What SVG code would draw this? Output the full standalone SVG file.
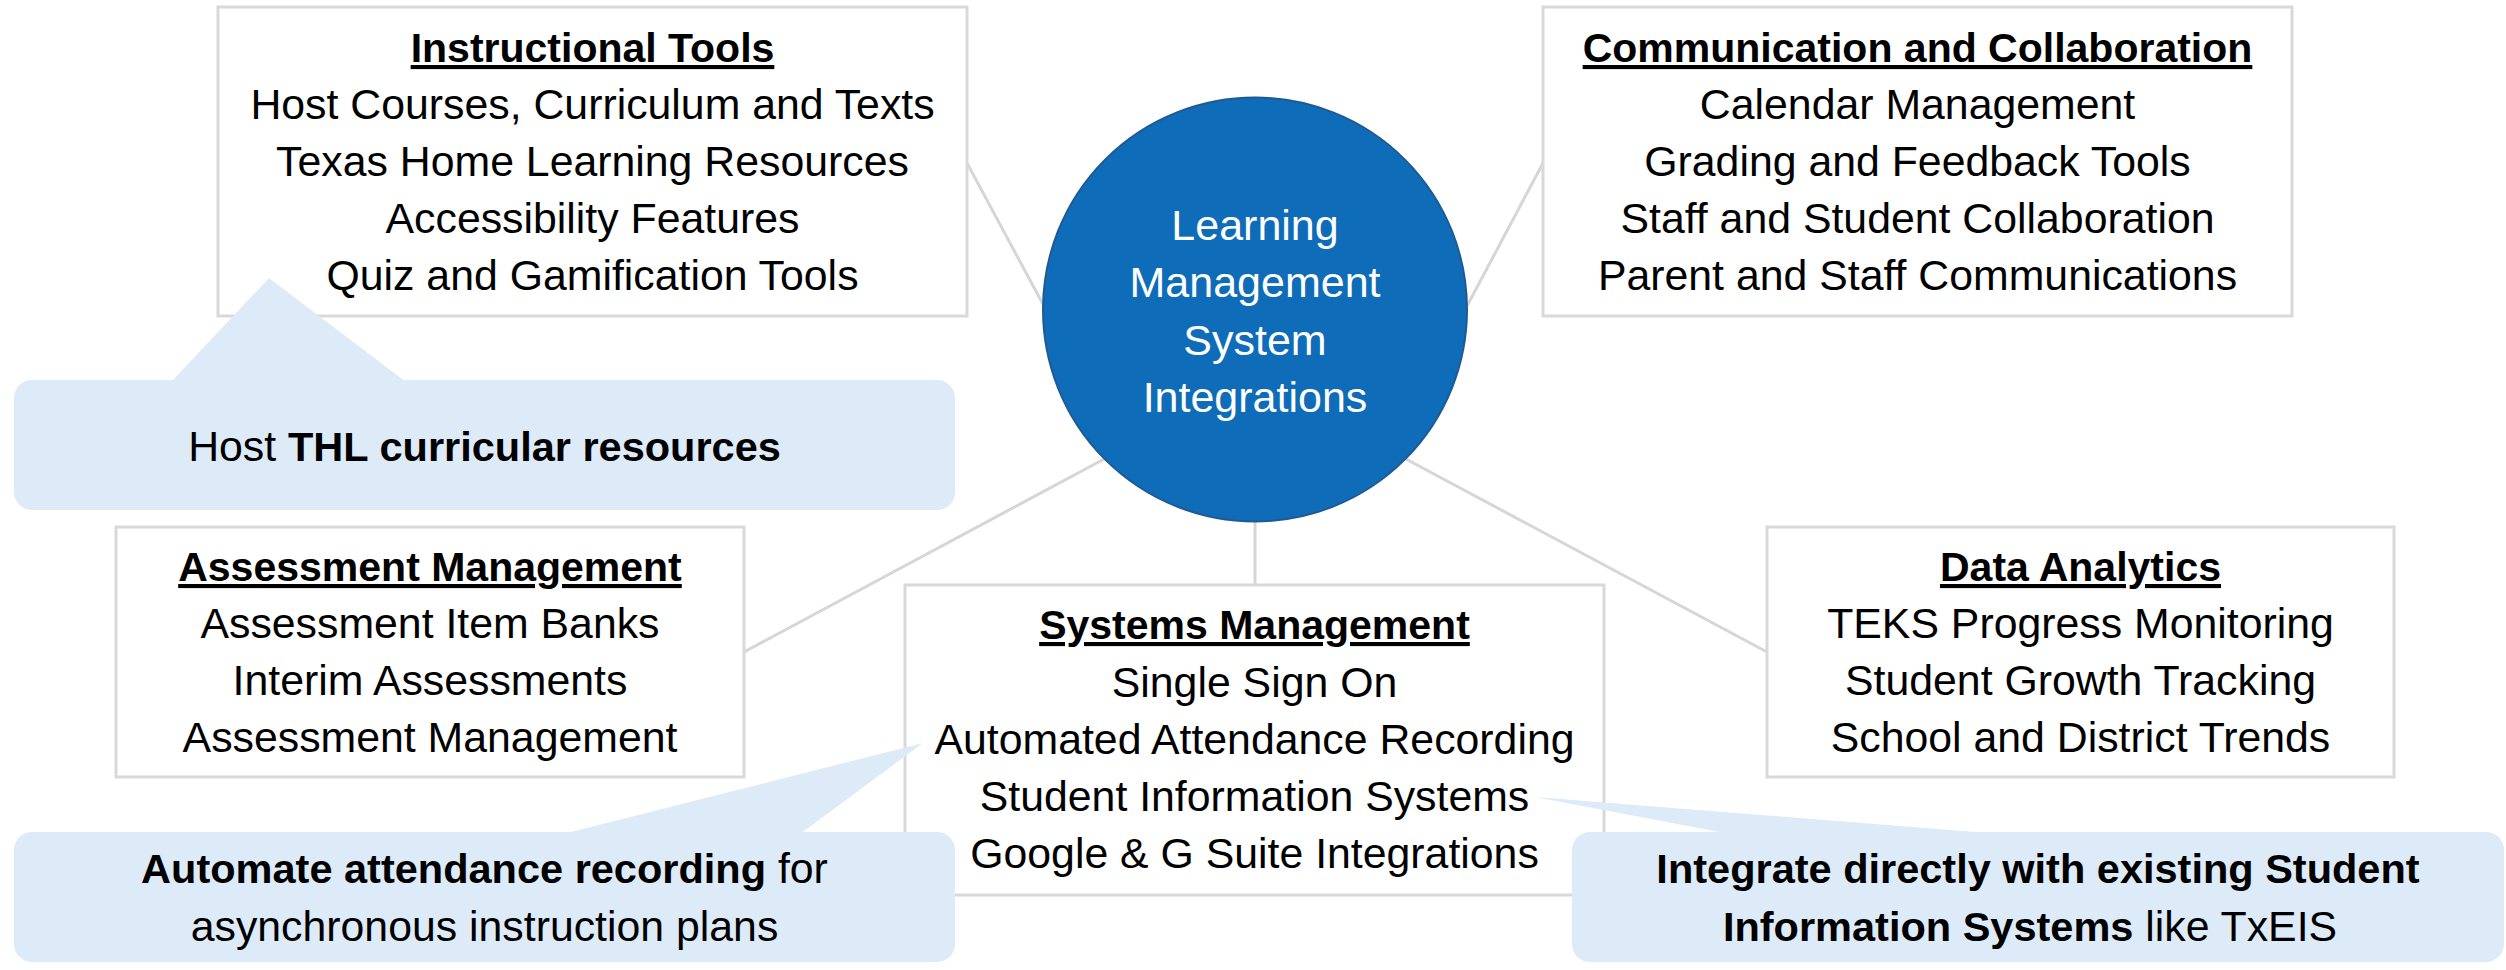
<svg xmlns="http://www.w3.org/2000/svg" width="2506" height="970" viewBox="0 0 2506 970">
  <style>
    .box { fill: #ffffff; stroke: #d9d9d9; stroke-width: 3; }
    .conn { stroke: #d6d6d6; stroke-width: 3; fill: none; }
    .callout { fill: #ddebf8; stroke: none; }
    text { font-family: "Liberation Sans", Arial, sans-serif; fill: #000000; text-anchor: middle; }
    .t { font-size: 42.8px; }
    .h { font-size: 41px; font-weight: bold; text-decoration: underline; }
    .b { font-weight: bold; font-size: 41.5px; }
    .w { fill: #ffffff; font-size: 43px; }
  </style>

  <g id="connectors">
    <line class="conn" x1="967" y1="163" x2="1045" y2="308"/>
    <line class="conn" x1="1466" y1="308" x2="1543" y2="163"/>
    <line class="conn" x1="744" y1="652" x2="1106" y2="458"/>
    <line class="conn" x1="1404" y1="458" x2="1767" y2="652"/>
    <line class="conn" x1="1255" y1="520" x2="1255" y2="585"/>
  </g>

  <g id="hub">
    <circle cx="1255" cy="309.5" r="212" fill="#0f6cb9" stroke="#1f5a94" stroke-width="2"/>
    <text class="w" x="1255" y="240">Learning</text>
    <text class="w" x="1255" y="297">Management</text>
    <text class="w" x="1255" y="355">System</text>
    <text class="w" x="1255" y="412">Integrations</text>
  </g>

  <g id="instructional-tools">
    <rect class="box" x="218" y="7" width="749" height="309"/>
    <text class="h" x="592.5" y="62">Instructional Tools</text>
    <text class="t" x="592.5" y="119">Host Courses, Curriculum and Texts</text>
    <text class="t" x="592.5" y="176">Texas Home Learning Resources</text>
    <text class="t" x="592.5" y="233">Accessibility Features</text>
    <text class="t" x="592.5" y="290">Quiz and Gamification Tools</text>
  </g>

  <g id="communication-collaboration">
    <rect class="box" x="1543" y="7" width="749" height="309"/>
    <text class="h" x="1917.5" y="62">Communication and Collaboration</text>
    <text class="t" x="1917.5" y="119">Calendar Management</text>
    <text class="t" x="1917.5" y="176">Grading and Feedback Tools</text>
    <text class="t" x="1917.5" y="233">Staff and Student Collaboration</text>
    <text class="t" x="1917.5" y="290">Parent and Staff Communications</text>
  </g>

  <g id="assessment-management">
    <rect class="box" x="116" y="527" width="628" height="250"/>
    <text class="h" x="430" y="581">Assessment Management</text>
    <text class="t" x="430" y="638">Assessment Item Banks</text>
    <text class="t" x="430" y="695">Interim Assessments</text>
    <text class="t" x="430" y="752">Assessment Management</text>
  </g>

  <g id="data-analytics">
    <rect class="box" x="1767" y="527" width="627" height="250"/>
    <text class="h" x="2080.5" y="581">Data Analytics</text>
    <text class="t" x="2080.5" y="638">TEKS Progress Monitoring</text>
    <text class="t" x="2080.5" y="695">Student Growth Tracking</text>
    <text class="t" x="2080.5" y="752">School and District Trends</text>
  </g>

  <g id="systems-management">
    <rect class="box" x="905" y="585" width="699" height="310"/>
    <text class="h" x="1254.5" y="639">Systems Management</text>
    <text class="t" x="1254.5" y="697">Single Sign On</text>
    <text class="t" x="1254.5" y="754">Automated Attendance Recording</text>
    <text class="t" x="1254.5" y="811">Student Information Systems</text>
    <text class="t" x="1254.5" y="868">Google &amp; G Suite Integrations</text>
  </g>

  <g id="callout-thl">
    <polygon class="callout" points="269,278 171,382 406,382"/>
    <rect class="callout" x="14" y="380" width="941" height="130" rx="18"/>
    <text class="t" x="484.5" y="461">Host <tspan class="b">THL curricular resources</tspan></text>
  </g>

  <g id="callout-attendance">
    <polygon class="callout" points="923,743 563,834 800,834"/>
    <rect class="callout" x="14" y="832" width="941" height="130" rx="18"/>
    <text class="t" x="484.5" y="883"><tspan class="b">Automate attendance recording</tspan> for</text>
    <text class="t" x="484.5" y="941">asynchronous instruction plans</text>
  </g>

  <g id="callout-sis">
    <polygon class="callout" points="1535,797 1730,834 2000,834"/>
    <rect class="callout" x="1572" y="832" width="932" height="130" rx="18"/>
    <text class="b" x="2038" y="883">Integrate directly with existing Student</text>
    <text class="t" x="2030" y="941"><tspan class="b">Information Systems</tspan> like TxEIS</text>
  </g>
</svg>
